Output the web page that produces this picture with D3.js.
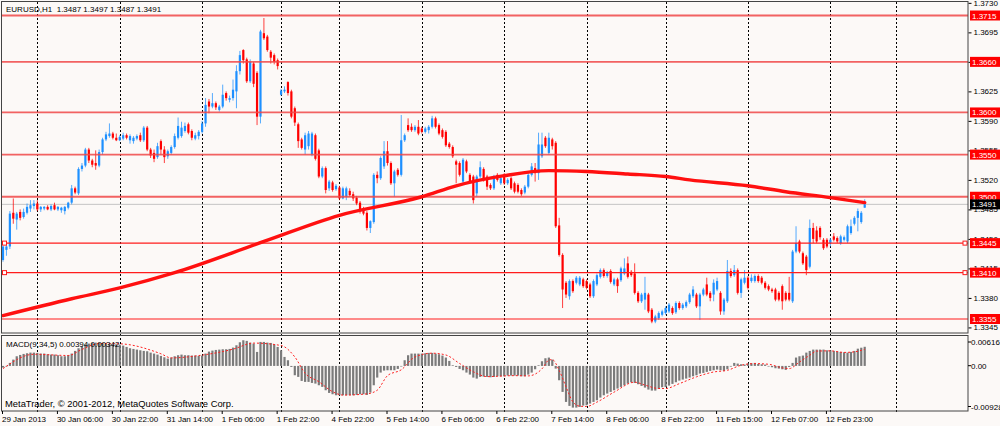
<!DOCTYPE html>
<html><head><meta charset="utf-8">
<script src="https://cdn.jsdelivr.net/npm/d3@7"></script>
<style>
html,body{margin:0;padding:0;background:#fcf9f7;overflow:hidden;}
svg{display:block;font-family:"Liberation Sans",Arial,sans-serif;}
</style></head><body>
<svg id="c" width="1000" height="426"></svg>
<script>
// ---------- DATA ----------
const symbolTitle = "EURUSD,H1  1.3487 1.3497 1.3487 1.3491";
const macdTitle = "MACD(9,34,5) 0.00394 0.00342";
const copyright = "MetaTrader, \u00A9 2001-2012, MetaQuotes Software Corp.";

const opens = [1.3425,1.3437,1.3441,1.3481,1.3473,1.3482,1.3476,1.3481,1.3486,1.3489,
1.3492,1.3485,1.3486,1.3488,1.3485,1.3490,1.3485,1.3484,1.3483,1.3487,
1.3493,1.3510,1.3504,1.3533,1.3537,1.3556,1.3543,1.3540,1.3537,1.3553,
1.3568,1.3572,1.3575,1.3570,1.3567,1.3569,1.3573,1.3567,1.3566,1.3569,
1.3573,1.3567,1.3582,1.3556,1.3552,1.3547,1.3566,1.3556,1.3548,1.3552,
1.3559,1.3570,1.3572,1.3578,1.3586,1.3578,1.3569,1.3572,1.3577,1.3587,
1.3613,1.3607,1.3611,1.3603,1.3607,1.3623,1.3615,1.3617,1.3625,1.3649,
1.3674,1.3663,1.3637,1.3658,1.3647,1.3595,1.3694,1.3690,1.3672,1.3668,
1.3662,1.3621,1.3625,1.3636,1.3625,1.3605,1.3586,1.3568,1.3556,1.3560,
1.3550,1.3573,1.3555,1.3524,1.3534,1.3510,1.3517,1.3509,1.3511,1.3498,
1.3500,1.3507,1.3503,1.3499,1.3493,1.3486,1.3481,1.3463,1.3470,1.3526,
1.3522,1.3536,1.3554,1.3540,1.3516,1.3532,1.3526,1.3567,1.3585,1.3583,
1.3579,1.3583,1.3581,1.3577,1.3579,1.3583,1.3593,1.3585,1.3579,1.3577,
1.3563,1.3559,1.3542,1.3540,1.3518,1.3542,1.3526,1.3524,1.3504,1.3524,
1.3533,1.3524,1.3514,1.3510,1.3526,1.3516,1.3526,1.3516,1.3522,1.3516,
1.3514,1.3508,1.3505,1.3512,1.3526,1.3534,1.3528,1.3548,1.3570,1.3552,
1.3568,1.3564,1.3466,1.3431,1.3398,1.3382,1.3400,1.3398,1.3396,1.3402,
1.3400,1.3396,1.3382,1.3396,1.3405,1.3413,1.3406,1.3412,1.3396,1.3402,
1.3401,1.3409,1.3421,1.3411,1.3409,1.3386,1.3376,1.3378,1.3384,1.3366,
1.3352,1.3356,1.3360,1.3362,1.3364,1.3368,1.3363,1.3374,1.3368,1.3370,
1.3375,1.3382,1.3384,1.3370,1.3384,1.3396,1.3386,1.3384,1.3390,1.3386,
1.3364,1.3376,1.3412,1.3407,1.3413,1.3386,1.3398,1.3404,1.3400,1.3400,
1.3406,1.3404,1.3398,1.3394,1.3390,1.3390,1.3386,1.3394,1.3386,1.3386,
1.3376,1.3435,1.3447,1.3433,1.3429,1.3417,1.3463,1.3460,1.3463,1.3449,
1.3449,1.3445,1.3453,1.3451,1.3445,1.3449,1.3447,1.3457,1.3468,1.3475,
1.3470,1.3487];

const highs = [1.3442,1.3444,1.3483,1.3498,1.3482,1.3485,1.3486,1.3492,1.3496,1.3496,
1.3496,1.3489,1.3489,1.3490,1.3491,1.3493,1.3489,1.3488,1.3489,1.3494,
1.3514,1.3512,1.3535,1.3540,1.3558,1.3558,1.3545,1.3555,1.3556,1.3570,
1.3577,1.3587,1.3577,1.3575,1.3573,1.3576,1.3575,1.3574,1.3572,1.3574,
1.3576,1.3584,1.3584,1.3558,1.3556,1.3564,1.3568,1.3560,1.3556,1.3561,
1.3575,1.3594,1.3589,1.3588,1.3588,1.3580,1.3576,1.3579,1.3590,1.3617,
1.3616,1.3623,1.3613,1.3609,1.3633,1.3625,1.3620,1.3639,1.3656,1.3673,
1.3675,1.3665,1.3663,1.3660,1.3649,1.3698,1.3712,1.3692,1.3674,1.3670,
1.3664,1.3628,1.3631,1.3637,1.3627,1.3607,1.3588,1.3570,1.3576,1.3578,
1.3577,1.3575,1.3557,1.3536,1.3536,1.3520,1.3519,1.3515,1.3513,1.3512,
1.3512,1.3510,1.3506,1.3501,1.3495,1.3488,1.3483,1.3472,1.3528,1.3530,
1.3548,1.3566,1.3566,1.3542,1.3532,1.3534,1.3597,1.3575,1.3593,1.3587,
1.3585,1.3591,1.3583,1.3583,1.3585,1.3596,1.3595,1.3587,1.3581,1.3579,
1.3565,1.3561,1.3544,1.3542,1.3546,1.3544,1.3528,1.3526,1.3526,1.3542,
1.3535,1.3526,1.3516,1.3526,1.3528,1.3524,1.3528,1.3522,1.3524,1.3518,
1.3516,1.3510,1.3514,1.3528,1.3540,1.3540,1.3576,1.3576,1.3572,1.3576,
1.3570,1.3566,1.3475,1.3433,1.3400,1.3402,1.3402,1.3406,1.3406,1.3404,
1.3402,1.3398,1.3402,1.3409,1.3415,1.3415,1.3412,1.3414,1.3404,1.3404,
1.3417,1.3427,1.3429,1.3413,1.3421,1.3388,1.3386,1.3405,1.3386,1.3368,
1.3360,1.3364,1.3366,1.3370,1.3374,1.3370,1.3376,1.3376,1.3374,1.3377,
1.3386,1.3394,1.3386,1.3386,1.3392,1.3404,1.3388,1.3402,1.3404,1.3388,
1.3380,1.3425,1.3415,1.3419,1.3415,1.3404,1.3413,1.3406,1.3408,1.3408,
1.3408,1.3406,1.3400,1.3396,1.3392,1.3392,1.3388,1.3396,1.3388,1.3405,
1.3437,1.3465,1.3449,1.3435,1.3431,1.3473,1.3469,1.3465,1.3465,1.3451,
1.3451,1.3451,1.3457,1.3453,1.3455,1.3454,1.3467,1.3473,1.3477,1.3486,
1.3483,1.3497];

const lows = [1.3423,1.3430,1.3438,1.3468,1.3461,1.3472,1.3474,1.3479,1.3482,1.3485,
1.3483,1.3482,1.3484,1.3484,1.3483,1.3484,1.3483,1.3481,1.3479,1.3485,
1.3491,1.3503,1.3502,1.3530,1.3535,1.3540,1.3535,1.3532,1.3535,1.3550,
1.3566,1.3570,1.3568,1.3566,1.3566,1.3567,1.3568,1.3563,1.3563,1.3567,
1.3565,1.3565,1.3554,1.3546,1.3541,1.3545,1.3550,1.3540,1.3545,1.3550,
1.3557,1.3568,1.3570,1.3576,1.3574,1.3567,1.3567,1.3568,1.3575,1.3583,
1.3599,1.3605,1.3603,1.3601,1.3605,1.3614,1.3612,1.3614,1.3605,1.3645,
1.3658,1.3635,1.3635,1.3630,1.3585,1.3587,1.3686,1.3672,1.3658,1.3657,
1.3651,1.3620,1.3623,1.3620,1.3593,1.3584,1.3558,1.3556,1.3550,1.3556,
1.3548,1.3543,1.3522,1.3522,1.3504,1.3507,1.3506,1.3507,1.3496,1.3497,
1.3496,1.3500,1.3495,1.3490,1.3480,1.3478,1.3460,1.3457,1.3468,1.3516,
1.3520,1.3533,1.3537,1.3514,1.3500,1.3524,1.3524,1.3565,1.3577,1.3577,
1.3577,1.3573,1.3575,1.3575,1.3575,1.3581,1.3581,1.3573,1.3569,1.3559,
1.3557,1.3546,1.3516,1.3524,1.3516,1.3528,1.3516,1.3492,1.3500,1.3522,
1.3518,1.3508,1.3508,1.3508,1.3518,1.3514,1.3514,1.3514,1.3508,1.3504,
1.3504,1.3501,1.3503,1.3510,1.3524,1.3518,1.3520,1.3546,1.3558,1.3550,
1.3556,1.3463,1.3429,1.3368,1.3380,1.3378,1.3386,1.3396,1.3394,1.3392,
1.3390,1.3380,1.3380,1.3394,1.3403,1.3404,1.3404,1.3397,1.3394,1.3386,
1.3399,1.3407,1.3403,1.3405,1.3384,1.3374,1.3374,1.3366,1.3362,1.3350,
1.3350,1.3354,1.3358,1.3360,1.3362,1.3360,1.3361,1.3366,1.3366,1.3368,
1.3373,1.3380,1.3368,1.3354,1.3382,1.3382,1.3376,1.3376,1.3388,1.3360,
1.3360,1.3374,1.3404,1.3405,1.3384,1.3380,1.3396,1.3390,1.3398,1.3398,
1.3398,1.3396,1.3390,1.3388,1.3386,1.3376,1.3376,1.3366,1.3376,1.3376,
1.3374,1.3433,1.3433,1.3419,1.3407,1.3415,1.3445,1.3445,1.3449,1.3437,
1.3439,1.3441,1.3447,1.3445,1.3443,1.3447,1.3445,1.3455,1.3466,1.3459,
1.3468,1.3487];

const closes = [1.3441,1.3441,1.3480,1.3474,1.3480,1.3475,1.3482,1.3488,1.3490,1.3492,
1.3485,1.3488,1.3488,1.3485,1.3489,1.3485,1.3488,1.3487,1.3488,1.3493,
1.3510,1.3505,1.3533,1.3537,1.3556,1.3543,1.3538,1.3537,1.3553,1.3568,
1.3574,1.3575,1.3570,1.3567,1.3571,1.3573,1.3570,1.3572,1.3570,1.3572,
1.3567,1.3582,1.3556,1.3549,1.3545,1.3560,1.3556,1.3547,1.3554,1.3559,
1.3572,1.3584,1.3582,1.3584,1.3576,1.3570,1.3573,1.3577,1.3587,1.3609,
1.3607,1.3611,1.3606,1.3607,1.3621,1.3617,1.3617,1.3627,1.3649,1.3668,
1.3662,1.3637,1.3660,1.3634,1.3595,1.3696,1.3688,1.3674,1.3665,1.3660,
1.3655,1.3626,1.3627,1.3623,1.3595,1.3588,1.3566,1.3558,1.3573,1.3575,
1.3575,1.3545,1.3524,1.3534,1.3508,1.3518,1.3508,1.3513,1.3498,1.3510,
1.3510,1.3502,1.3498,1.3492,1.3483,1.3480,1.3463,1.3471,1.3526,1.3522,
1.3546,1.3554,1.3540,1.3516,1.3530,1.3526,1.3567,1.3573,1.3579,1.3579,
1.3583,1.3575,1.3577,1.3581,1.3583,1.3593,1.3583,1.3575,1.3571,1.3561,
1.3559,1.3548,1.3538,1.3526,1.3544,1.3530,1.3518,1.3496,1.3524,1.3535,
1.3520,1.3512,1.3510,1.3524,1.3520,1.3522,1.3516,1.3520,1.3510,1.3506,
1.3506,1.3503,1.3512,1.3526,1.3536,1.3528,1.3562,1.3562,1.3560,1.3570,
1.3560,1.3465,1.3431,1.3390,1.3384,1.3400,1.3388,1.3404,1.3404,1.3394,
1.3392,1.3382,1.3400,1.3407,1.3413,1.3406,1.3410,1.3399,1.3402,1.3394,
1.3415,1.3415,1.3405,1.3407,1.3386,1.3376,1.3384,1.3386,1.3364,1.3352,
1.3358,1.3362,1.3364,1.3368,1.3372,1.3362,1.3374,1.3368,1.3372,1.3375,
1.3384,1.3390,1.3370,1.3384,1.3390,1.3384,1.3380,1.3398,1.3400,1.3364,
1.3378,1.3412,1.3406,1.3413,1.3386,1.3402,1.3404,1.3392,1.3404,1.3406,
1.3400,1.3398,1.3392,1.3390,1.3388,1.3378,1.3378,1.3376,1.3378,1.3378,
1.3435,1.3445,1.3435,1.3421,1.3413,1.3463,1.3450,1.3447,1.3452,1.3439,
1.3441,1.3449,1.3449,1.3447,1.3453,1.3452,1.3465,1.3465,1.3475,1.3483,
1.3481,1.3491];

// moving average (thick red line), read at these bars
const maBars = [0,20,34,50,76,98,122,132,146,159,170,182,193,200,217,228,241,251];
const maValues = [1.3359,1.3379,1.3392,1.3410,1.3447,1.3478,1.3500,1.3513,1.3525,1.3531,1.3530,1.3527,1.3524,1.3520,1.3513,1.3506,1.3499,1.3493];

// MACD histogram, one value per bar
const macdHist = [-0.00034,-0.00007,0.00062,0.00130,0.00199,0.00226,0.00247,0.00261,0.00274,0.00274,
0.00268,0.00254,0.00254,0.00240,0.00233,0.00233,0.00220,0.00199,0.00199,0.00220,
0.00254,0.00309,0.00364,0.00405,0.00439,0.00460,0.00473,0.00480,0.00473,0.00473,
0.00460,0.00446,0.00446,0.00446,0.00439,0.00418,0.00391,0.00364,0.00350,0.00336,
0.00322,0.00309,0.00302,0.00274,0.00254,0.00233,0.00206,0.00178,0.00151,0.00172,
0.00199,0.00220,0.00233,0.00220,0.00220,0.00213,0.00213,0.00206,0.00213,0.00254,
0.00295,0.00316,0.00329,0.00336,0.00343,0.00343,0.00350,0.00377,0.00425,0.00487,
0.00528,0.00515,0.00480,0.00460,0.00288,0.00494,0.00494,0.00480,0.00473,0.00446,
0.00391,0.00322,0.00185,0.00117,-0.00021,-0.00192,-0.00226,-0.00309,-0.00329,-0.00329,
-0.00350,-0.00364,-0.00398,-0.00432,-0.00501,-0.00556,-0.00583,-0.00604,-0.00604,-0.00604,
-0.00604,-0.00604,-0.00604,-0.00597,-0.00583,-0.00583,-0.00597,-0.00549,-0.00398,-0.00240,
-0.00137,-0.00096,-0.00089,-0.00089,-0.00089,-0.00062,0.00000,0.00117,0.00220,0.00254,
0.00254,0.00254,0.00254,0.00261,0.00268,0.00268,0.00254,0.00240,0.00213,0.00172,
0.00103,0.00014,-0.00021,-0.00062,-0.00089,-0.00137,-0.00178,-0.00240,-0.00261,-0.00226,
-0.00220,-0.00226,-0.00233,-0.00226,-0.00213,-0.00213,-0.00213,-0.00199,-0.00199,-0.00199,
-0.00199,-0.00213,-0.00213,-0.00178,-0.00137,-0.00069,0.00014,0.00096,0.00158,0.00172,
0.00130,-0.00055,-0.00295,-0.00535,-0.00741,-0.00823,-0.00858,-0.00858,-0.00844,-0.00816,
-0.00809,-0.00775,-0.00741,-0.00707,-0.00652,-0.00604,-0.00569,-0.00535,-0.00501,-0.00466,
-0.00432,-0.00398,-0.00364,-0.00336,-0.00350,-0.00377,-0.00412,-0.00446,-0.00487,-0.00508,
-0.00508,-0.00473,-0.00439,-0.00432,-0.00405,-0.00370,-0.00336,-0.00302,-0.00281,-0.00261,
-0.00240,-0.00213,-0.00192,-0.00158,-0.00144,-0.00123,-0.00103,-0.00089,-0.00075,-0.00089,
-0.00103,-0.00069,-0.00014,0.00062,0.00048,0.00034,0.00027,0.00048,0.00055,0.00062,
0.00041,0.00034,0.00027,0.00000,-0.00027,-0.00048,-0.00055,-0.00069,-0.00082,-0.00021,
0.00062,0.00172,0.00199,0.00213,0.00274,0.00309,0.00336,0.00336,0.00336,0.00336,
0.00322,0.00322,0.00309,0.00295,0.00288,0.00281,0.00274,0.00288,0.00309,0.00355,
0.00375,0.00394];

// MACD signal line (dotted red), read at these bars
const sigBars = [0,9,19,23,28,34,46,49,57,67,73,81,85,88,92,96,99,106,109,112,116,120,125,129,133,137,141,149,153,157,159,160,162,164,166,168,170,173,178,184,187,191,193,197,202,207,211,215,219,223,227,229,232,235,237,241,245,248,251];
const sigValues = [-0.00055,0.00240,0.00215,0.00340,0.00460,0.00455,0.00250,0.00165,0.00213,0.00345,0.00470,0.00420,0.00185,-0.00150,-0.00325,-0.00530,-0.00600,-0.00575,-0.00500,-0.00200,-0.00080,0.00185,0.00262,0.00225,0.00050,-0.00120,-0.00220,-0.00200,-0.00205,-0.00060,0.00120,0.00130,-0.00090,-0.00430,-0.00740,-0.00830,-0.00835,-0.00745,-0.00540,-0.00335,-0.00395,-0.00465,-0.00465,-0.00365,-0.00225,-0.00125,-0.00090,0.00014,0.00048,0.00034,-0.00040,-0.00055,0.00080,0.00220,0.00305,0.00310,0.00278,0.00290,0.00342];

// horizontal level lines and labels
const levelsSoft = [1.3715,1.3660,1.3600,1.3550,1.3500];
const levelsSharp = [1.3445,1.3410,1.3355];
const currentPrice = 1.3491;
const priceTicks = [1.3730,1.3695,1.3660,1.3625,1.3590,1.3555,1.3520,1.3485,1.3450,1.3415,1.3380,1.3345];
const macdTicks = [0.00616,0.00,-0.00928];
const macdTickLabels = ["0.00616","0.00","-0.00928"];

// time axis
const timeLabelBars = [0,16,32,48,64,80,96,112,128,144,160,176,192,208,224,240];
const timeLabels = ["29 Jan 2013","30 Jan 06:00","30 Jan 22:00","31 Jan 14:00","1 Feb 06:00","1 Feb 22:00","4 Feb 22:00","5 Feb 14:00","6 Feb 06:00","6 Feb 22:00","7 Feb 14:00","8 Feb 06:00","8 Feb 22:00","11 Feb 15:00","12 Feb 07:00","12 Feb 23:00"];
const dayGridBars = [10,34,58,81,98,122,146,170,193,217,241,260];

// ---------- DRAWING ----------
const svg = d3.select("#c");
const W = 1000, H = 426;
const RX = 968;           // right edge of plot panels
const mainTop = 2, mainBot = 333, macdTop = 336, macdBot = 411;
const BLUE = "#1e90ff", RED = "#ff0000";

const x = d3.scaleLinear().domain([0, 251]).range([3, 864.7]);
const y = d3.scaleLinear().domain([1.3355, 1.3715]).range([319, 15.5]);
const ym = d3.scaleLinear().domain([-0.00928, 0.00616]).range([macdBot, macdTop]);

svg.append("rect").attr("width", W).attr("height", H).attr("fill", "#fcf9f7");

const defs = svg.append("defs");
defs.append("clipPath").attr("id","clipMain").append("rect")
  .attr("x",2).attr("y",mainTop).attr("width",RX-2).attr("height",mainBot-mainTop);
defs.append("clipPath").attr("id","clipMacd").append("rect")
  .attr("x",2).attr("y",macdTop).attr("width",RX-2).attr("height",macdBot-macdTop);

// vertical dashed grid
svg.append("g").selectAll("line").data(dayGridBars).join("line")
  .attr("x1", d => Math.round(x(d)) + 0.5).attr("x2", d => Math.round(x(d)) + 0.5)
  .attr("y1", mainTop).attr("y2", macdBot + 3)
  .attr("stroke", "#000").attr("stroke-width", 1).attr("stroke-dasharray", "2,2");

const gMain = svg.append("g").attr("clip-path","url(#clipMain)");

// current price line
gMain.append("line").attr("x1",2).attr("x2",RX)
  .attr("y1", y(currentPrice)).attr("y2", y(currentPrice))
  .attr("stroke", "#c4c4c4").attr("stroke-width", 1);

// candles
const idx = d3.range(Math.min(opens.length, highs.length, lows.length, closes.length));
const gC = gMain.append("g");
gC.selectAll("line.wick").data(idx).join("line").attr("class","wick")
  .attr("x1", i => x(i)).attr("x2", i => x(i))
  .attr("y1", i => y(highs[i])).attr("y2", i => y(lows[i]))
  .attr("stroke", i => closes[i] >= opens[i] ? BLUE : RED)
  .attr("stroke-width", 1).attr("stroke-opacity", 0.75);
gC.selectAll("rect.body").data(idx).join("rect").attr("class","body")
  .attr("x", i => x(i) - 1.1).attr("width", 2.2)
  .attr("y", i => y(Math.max(opens[i], closes[i])))
  .attr("height", i => Math.max(1, Math.abs(y(opens[i]) - y(closes[i]))))
  .attr("fill", i => closes[i] >= opens[i] ? BLUE : RED);

// level lines
gMain.append("g").selectAll("line").data(levelsSoft).join("line")
  .attr("x1",2).attr("x2",RX).attr("y1",d=>y(d)).attr("y2",d=>y(d))
  .attr("stroke","#f04848").attr("stroke-width",1.8).attr("stroke-opacity",0.85);
gMain.append("g").selectAll("line").data(levelsSharp).join("line")
  .attr("x1",2).attr("x2",RX).attr("y1",d=>y(d)).attr("y2",d=>y(d))
  .attr("stroke","#ff1c1c").attr("stroke-width",1.2);
// selected-line end squares
const sq = svg.append("g");
[1.3445, 1.3410].forEach(v => {
  [4.5, 965].forEach(cx => {
    sq.append("rect").attr("x", cx - 2).attr("y", y(v) - 2).attr("width", 4).attr("height", 4)
      .attr("fill", "#fff").attr("stroke", "#ff1c1c").attr("stroke-width", 1);
  });
});

// moving average
gMain.append("path").datum(d3.range(maBars.length))
  .attr("d", d3.line().x(k => x(maBars[k])).y(k => y(maValues[k])).curve(d3.curveMonotoneX))
  .attr("fill","none").attr("stroke","#ff1010").attr("stroke-width",3.4).attr("stroke-linecap","round");

// MACD panel
const gM = svg.append("g").attr("clip-path","url(#clipMacd)");
gM.selectAll("rect").data(d3.range(macdHist.length)).join("rect")
  .attr("x", i => x(i) - 1.1).attr("width", 2.2)
  .attr("y", i => Math.min(ym(0), ym(macdHist[i])))
  .attr("height", i => Math.max(0.6, Math.abs(ym(macdHist[i]) - ym(0))))
  .attr("fill", "#7b7b7b");
gM.append("path").datum(d3.range(sigBars.length))
  .attr("d", d3.line().x(k => x(sigBars[k])).y(k => ym(sigValues[k])).curve(d3.curveMonotoneX))
  .attr("fill","none").attr("stroke","#ff2020").attr("stroke-width",1).attr("stroke-dasharray","2,2");

// frames
svg.append("rect").attr("x",1.5).attr("y",1.5).attr("width",RX-1.5).attr("height",mainBot-1.5)
  .attr("fill","none").attr("stroke","#444").attr("stroke-width",1);
svg.append("rect").attr("x",1.5).attr("y",macdTop-0.5).attr("width",RX-1.5).attr("height",macdBot-macdTop+0.5)
  .attr("fill","none").attr("stroke","#444").attr("stroke-width",1);

// right price axis
const ax = svg.append("g").attr("transform", `translate(${RX+0.5},0)`)
  .call(d3.axisRight(y).tickValues(priceTicks).tickSize(3).tickPadding(2).tickFormat(d3.format(".4f")));
ax.select(".domain").remove();
ax.selectAll("line").attr("stroke","#000");
ax.selectAll("text").attr("font-size", 8).attr("font-family","Liberation Sans, Arial, sans-serif").attr("fill","#000");

// red level labels
const lab = svg.append("g");
levelsSoft.concat(levelsSharp).forEach(v => {
  lab.append("rect").attr("x", 970).attr("y", y(v) - 5).attr("width", 30).attr("height", 10).attr("fill", "#ff0000");
  lab.append("text").attr("x", 972).attr("y", y(v) + 3).attr("font-size", 8).attr("fill", "#fff").text(d3.format(".4f")(v));
});
lab.append("rect").attr("x", 970).attr("y", y(currentPrice) - 5).attr("width", 30).attr("height", 10).attr("fill", "#000");
lab.append("text").attr("x", 972).attr("y", y(currentPrice) + 3).attr("font-size", 8).attr("fill", "#fff").text(d3.format(".4f")(currentPrice));

// MACD axis labels
const macdLabelY = [342, 365.7, 406.5];
macdTicks.forEach((v, k) => {
  svg.append("line").attr("x1", RX).attr("x2", RX + 3).attr("y1", macdLabelY[k]).attr("y2", macdLabelY[k]).attr("stroke", "#000");
  svg.append("text").attr("x", 971).attr("y", macdLabelY[k] + 3).attr("font-size", 8).attr("fill", "#000").text(macdTickLabels[k]);
});

// time labels
const tg = svg.append("g");
timeLabelBars.forEach((b, k) => {
  tg.append("line").attr("x1", x(b) - 0.5).attr("x2", x(b) - 0.5).attr("y1", macdBot).attr("y2", macdBot + 3).attr("stroke", "#000");
  tg.append("text").attr("x", x(b) - 1).attr("y", 422).attr("font-size", 8).attr("fill", "#000").text(timeLabels[k]);
});

// titles
svg.append("text").attr("x", 6).attr("y", 12).attr("font-size", 8).attr("fill", "#000")
  .attr("xml:space","preserve").style("white-space","pre").text(symbolTitle);
svg.append("text").attr("x", 6).attr("y", 347).attr("font-size", 8).attr("fill", "#000").text(macdTitle);
svg.append("text").attr("x", 5).attr("y", 407).attr("font-size", 9.4).attr("fill", "#000").text(copyright);
</script>
</body></html>
